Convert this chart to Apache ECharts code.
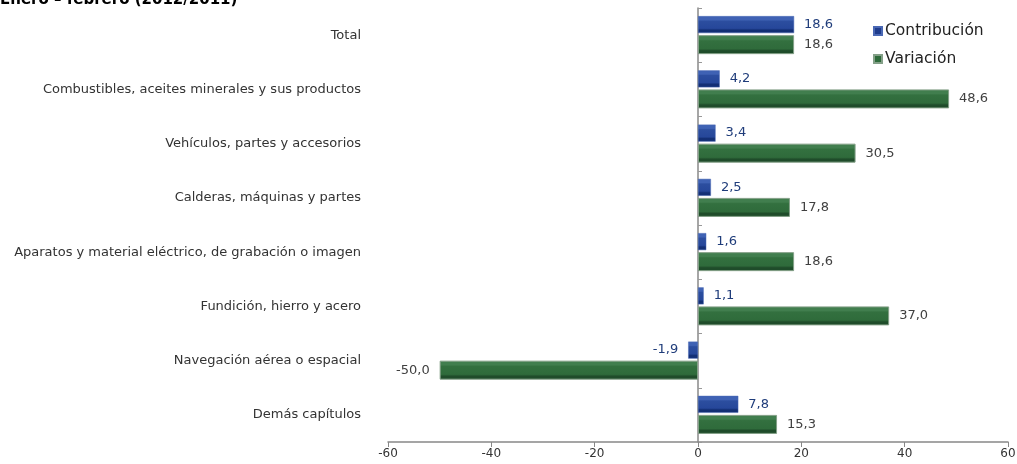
<!DOCTYPE html>
<html>
<head>
<meta charset="utf-8">
<script src="https://cdn.jsdelivr.net/npm/echarts@6/dist/echarts.min.js"></script>
<style>html,body{margin:0;padding:0;background:#fff;}#c{width:1017px;height:464px;}</style>
</head>
<body>
<div id="c"></div>
<script>
var titleText = 'Enero – febrero (2012/2011)';
var categories = [
  'Total',
  'Combustibles, aceites minerales y sus productos',
  'Vehículos, partes y accesorios',
  'Calderas, máquinas y partes',
  'Aparatos y material eléctrico, de grabación o imagen',
  'Fundición, hierro y acero',
  'Navegación aérea o espacial',
  'Demás capítulos'
];
var contribucion = [18.6, 4.2, 3.4, 2.5, 1.6, 1.1, -1.9, 7.8];
var variacion = [18.6, 48.6, 30.5, 17.8, 18.6, 37.0, -50.0, 15.3];
var seriesNames = ['Contribución', 'Variación'];
var xTicks = { min: -60, max: 60, interval: 20 };

var FONT = 'DejaVu Sans, Verdana, sans-serif';
function fmt(v) { return v.toFixed(1).replace('.', ','); }
function items(arr) {
  return arr.map(function (v) {
    return { value: v, label: { position: v < 0 ? 'left' : 'right' } };
  });
}
function grad(c0, c1, c2, c3) {
  return new echarts.graphic.LinearGradient(0, 0, 0, 1, [
    { offset: 0, color: c0 }, { offset: 0.22, color: c0 }, { offset: 0.3, color: c1 },
    { offset: 0.72, color: c2 }, { offset: 0.82, color: c3 }, { offset: 1, color: c3 }
  ]);
}
var chart = echarts.init(document.getElementById('c'));
chart.setOption({
  animation: false,
  title: {
    text: titleText, left: 0, top: -7, padding: 0,
    textStyle: { fontFamily: FONT, fontSize: 15, fontWeight: 'bold', color: '#000' }
  },
  legend: {
    orient: 'vertical', left: 873, top: 23, itemWidth: 8, itemHeight: 8, itemGap: 12,
    icon: 'rect', padding: 0,
    textStyle: { fontFamily: FONT, fontSize: 15.5, color: '#222', padding: [0, 0, 0, -2] },
    data: [
      { name: seriesNames[0], itemStyle: { color: '#1f3c8c' } },
      { name: seriesNames[1], itemStyle: { color: '#2f6b3b' } }
    ]
  },
  grid: { left: 388, right: 9, top: 8, bottom: 22, containLabel: false, outerBoundsMode: 'none' },
  xAxis: {
    type: 'value', min: xTicks.min, max: xTicks.max, interval: xTicks.interval,
    axisLine: { show: true, lineStyle: { color: '#888', width: 1.5 } },
    axisTick: { show: true, length: 5, lineStyle: { color: '#888' } },
    splitLine: { show: false },
    axisLabel: { fontFamily: FONT, fontSize: 12, color: '#333', margin: 6 }
  },
  yAxis: {
    type: 'category', inverse: true, data: categories,
    axisLine: { show: true, onZero: true, lineStyle: { color: '#888', width: 1.5 } },
    axisTick: { show: true, length: 4, inside: true, lineStyle: { color: '#999' } },
    axisLabel: { fontFamily: FONT, fontSize: 13, color: '#333', margin: 27 }
  },
  series: [
    {
      name: seriesNames[0], type: 'bar', data: items(contribucion),
      barWidth: 17, barGap: '12%',
      itemStyle: { color: grad('#3f62b4', '#2c4e9f', '#26479a', '#132f75'), borderColor: '#4a68b4', borderWidth: 0.5 },
      label: {
        show: true, distance: 10, fontFamily: FONT, fontSize: 13, color: '#1f3c7a',
        formatter: function (p) { return fmt(p.value); }
      }
    },
    {
      name: seriesNames[1], type: 'bar', data: items(variacion),
      barWidth: 19,
      itemStyle: { color: grad('#417e4e', '#33703f', '#2f6b3b', '#1f4c2a'), borderColor: '#84a088', borderWidth: 1 },
      label: {
        show: true, distance: 10, fontFamily: FONT, fontSize: 13, color: '#404040',
        formatter: function (p) { return fmt(p.value); }
      }
    }
  ]
});
</script>
</body>
</html>
